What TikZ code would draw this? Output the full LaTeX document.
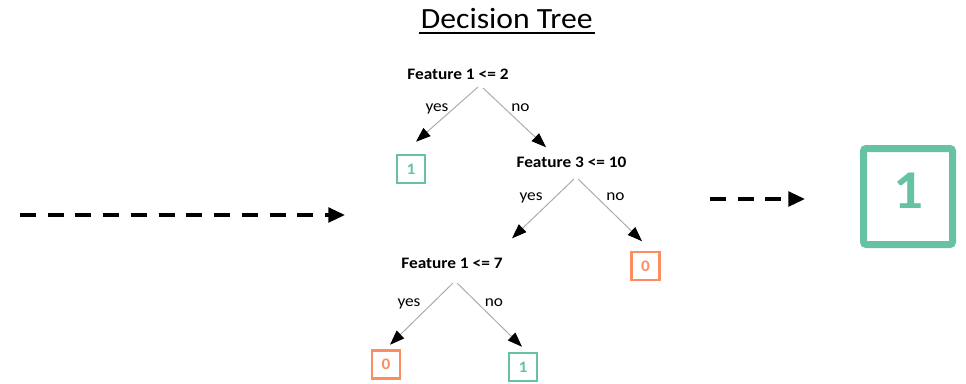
\documentclass[tikz,border=0pt]{standalone}
\usepackage{fontspec}
\setmainfont[FakeStretch=1.08]{Carlito}
\usetikzlibrary{arrows.meta}
\definecolor{setgreen}{HTML}{66C2A5}
\definecolor{setorange}{HTML}{FC8D62}
\tikzset{
test node/.style={inner sep=0pt,anchor=base,font=\bfseries\fontsize{12}{14}\selectfont},
answer/.style={inner sep=0pt,anchor=base,font=\fontsize{12}{14}\selectfont},
leaf/.style={draw,line width=1.9pt,minimum size=21pt,inner sep=0pt,font=\bfseries\fontsize{12}{14}\selectfont},
leaf one/.style={leaf,draw=setgreen,text=setgreen},
leaf zero/.style={leaf,draw=setorange,text=setorange},
ramo/.style={-{Triangle[length=11pt,width=8pt,color=black]},draw=gray!65,line width=0.75pt},
flusso/.style={-{Triangle[length=12.5pt,width=11pt]},line width=2.5pt,dash pattern=on 12pt off 8.8pt}}

\begin{document}
\begin{tikzpicture}[x=0.75pt,y=-0.75pt]
\useasboundingbox (0,0) rectangle (966,383);

\node[inner sep=0pt,anchor=base,font=\fontsize{22}{26}\selectfont] (title) at (506.7,28) {Decision Tree};
\draw[line width=1.1pt] ([shift={(-2,5)}]title.base west) -- ([shift={(2,5)}]title.base east);

\node[test node] (r) at (458,79) {Feature 1 <= 2};
\node[test node] (f3) at (571.5,167) {Feature 3 <= 10};
\node[test node] (f7) at (452,268) {Feature 1 <= 7};

\node[leaf one] (l1) at (411,169) {1};
\node[leaf zero] (l2) at (645.5,266) {0};
\node[leaf zero] (l3) at (386,364.5) {0};
\node[leaf one] (l4) at (523,367) {1};

\coordinate (rL) at ([shift={(20,8)}]r.base);
\coordinate (rR) at ([shift={(25,9)}]r.base);
\coordinate (f3L) at ([shift={(2.5,12)}]f3.base);
\coordinate (f3R) at ([shift={(6.5,12)}]f3.base);
\coordinate (f7L) at ([shift={(1,15)}]f7.base);
\coordinate (f7R) at ([shift={(5,15)}]f7.base);

\draw[ramo] (rL) -- ([shift={(5,-12)}]l1.north);
\draw[ramo] (rR) -- ([shift={(-25.5,-9)}]f3.north);
\draw[ramo] (f3L) -- ([shift={(60,-19)}]f7.north);
\draw[ramo] (f3R) -- ([shift={(-3.5,-9.5)}]l2.north);
\draw[ramo] (f7L) -- ([shift={(4,-4.5)}]l3.north);
\draw[ramo] (f7R) -- ([shift={(-1,-5)}]l4.north);

\node[answer] (y1) at (437,111) {yes};
\node[answer] (n1) at (520.5,111) {no};
\node[answer] (y2) at (531,200) {yes};
\node[answer] (n2) at (615.5,200) {no};
\node[answer] (y3) at (409,306) {yes};
\node[answer] (n3) at (494,306) {no};

\node[draw=setgreen,text=setgreen,line width=5.25pt,rounded corners=2pt,minimum width=66.75pt,minimum height=72pt,inner sep=0pt,text depth=9pt,font=\bfseries\fontsize{41}{48}\selectfont] (out) at (908,196.5) {1};

\coordinate (a1) at (20,215);
\coordinate (a2) at (345,215);
\coordinate (b1) at (710,199);
\coordinate (b2) at (805,199);
\draw[flusso] (a1) -- (a2);
\draw[flusso] (b1) -- (b2);

\end{tikzpicture}
\end{document}
